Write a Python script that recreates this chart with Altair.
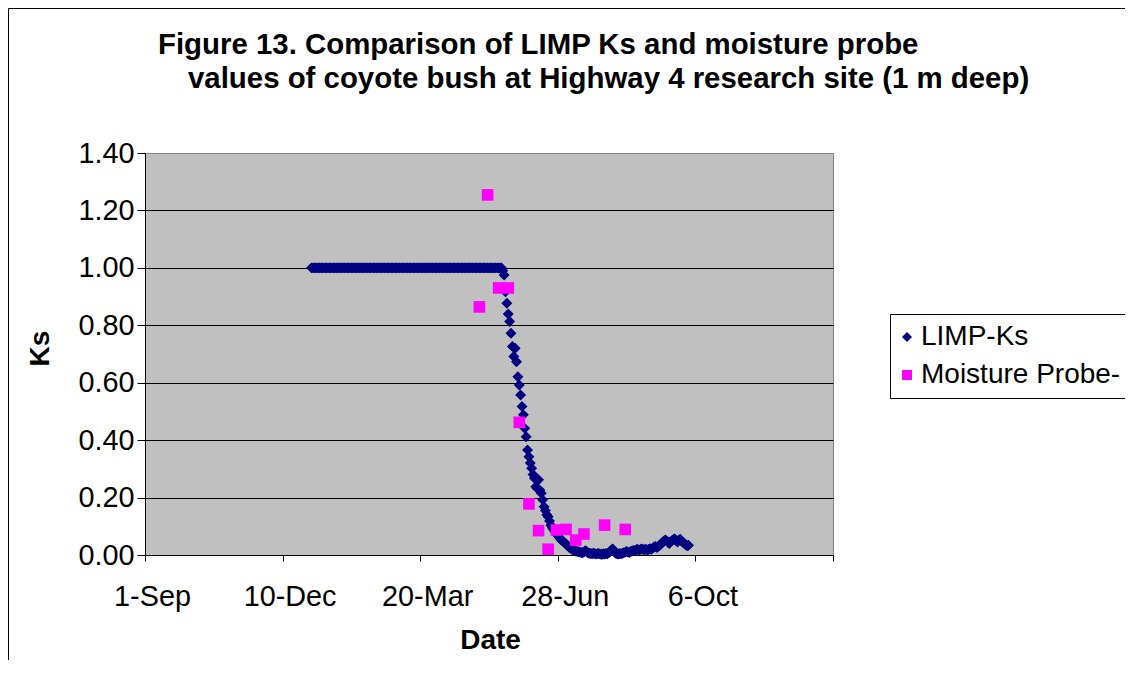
import altair as alt
import pandas as pd

FONT = "Liberation Sans"

series_names = ["LIMP-Ks", "Moisture Probe-"]

# LIMP-Ks: one value per day, starting 31-Dec-2002 (day 0)
limp_start = "2002-12-31"
limp_ks = [1.0] * 139 + [
    0.99, 0.975, 0.917, 0.877, 0.839, 0.813, 0.772, 0.726, 0.691, 0.720,
    0.673, 0.621, 0.592, 0.557, 0.517, 0.488, 0.441, 0.412, 0.366, 0.342,
    0.320, 0.302, 0.280, 0.267, 0.238, 0.232, 0.262, 0.226, 0.215, 0.192,
    0.168, 0.155, 0.140, 0.133, 0.118, 0.104, 0.095, 0.088, 0.081, 0.073,
    0.068, 0.062, 0.055, 0.050, 0.046, 0.043, 0.038, 0.033, 0.028, 0.024,
    0.021, 0.018, 0.016, 0.014, 0.012, 0.011, 0.010, 0.009, 0.008, 0.010,
    0.015, 0.012, 0.007, 0.006, 0.005, 0.004, 0.006, 0.004, 0.003, 0.005,
    0.004, 0.003, 0.002, 0.004, 0.003, 0.005, 0.004, 0.008, 0.012, 0.018,
    0.021, 0.012, 0.006, 0.004, 0.003, 0.005, 0.004, 0.006, 0.008, 0.010,
    0.012, 0.010, 0.009, 0.012, 0.014, 0.016, 0.015, 0.018, 0.020, 0.017,
    0.019, 0.021, 0.019, 0.018, 0.020, 0.017, 0.019, 0.022, 0.020, 0.024,
    0.028, 0.030, 0.026, 0.030, 0.033, 0.038, 0.044, 0.048, 0.052, 0.050,
    0.045, 0.040, 0.046, 0.050, 0.054, 0.056, 0.050, 0.045, 0.052, 0.055,
    0.048, 0.044, 0.040, 0.036, 0.032, 0.034,
]

# Moisture probe readings
probe_dates = [
    "2003-05-02", "2003-05-08", "2003-05-16", "2003-05-23", "2003-05-31",
    "2003-06-07", "2003-06-14", "2003-06-21", "2003-06-27", "2003-07-04",
    "2003-07-11", "2003-07-17", "2003-08-01", "2003-08-16",
]
probe_ks = [
    0.864, 1.254, 0.930, 0.930, 0.462, 0.178, 0.085, 0.020, 0.087, 0.089,
    0.052, 0.073, 0.104, 0.089,
]

y_ticks = [0.0, 0.2, 0.4, 0.6, 0.8, 1.0, 1.2, 1.4]

title_line1 = "Figure 13. Comparison of LIMP Ks and moisture probe"
title_line2 = "values of coyote bush at Highway 4 research site (1 m deep)"

limp_dates = pd.Timestamp(limp_start) + pd.to_timedelta(list(range(len(limp_ks))), unit="D")
df = pd.concat([
    pd.DataFrame({"date": limp_dates, "ks": limp_ks, "series": series_names[0]}),
    pd.DataFrame({"date": pd.to_datetime(probe_dates), "ks": probe_ks, "series": series_names[1]}),
], ignore_index=True)

x_vals = [
    alt.DateTime(year=2002, month=9, date=1),
    alt.DateTime(year=2002, month=12, date=10),
    alt.DateTime(year=2003, month=3, date=20),
    alt.DateTime(year=2003, month=6, date=28),
    alt.DateTime(year=2003, month=10, date=6),
    alt.DateTime(year=2004, month=1, date=14),
]

leg = alt.Legend(
    orient="none", legendX=745, legendY=161, title=None,
    labelFont=FONT, labelFontSize=28, labelColor="black", labelLimit=600,
    strokeColor="black", fillColor="white", padding=9,
    symbolSize=100, symbolStrokeWidth=0, labelOffset=0, rowPadding=10,
    symbolOffset=-6,
)

base = alt.Chart(df).encode(
    x=alt.X(
        "date:T",
        scale=alt.Scale(domain=[x_vals[0], x_vals[-1]], nice=False),
        axis=alt.Axis(
            values=x_vals, grid=False, title="Date",
            labelExpr="year(datum.value) >= 2004 ? '' : timeFormat(datum.value, '%-d-%b')",
            titleX=345, titleY=85, titleBaseline="middle", titleAlign="center",
            labelPadding=21, labelOffset=7, tickSize=6, labelFlush=False, labelOverlap=False,
        ),
    ),
    y=alt.Y(
        "ks:Q",
        scale=alt.Scale(domain=[0, 1.4], nice=False),
        axis=alt.Axis(
            values=y_ticks, format=".2f", title="Ks",
            titleX=-105, titleY=195, titleAngle=270, titleAlign="center",
            titleBaseline="middle", tickSize=8, labelPadding=3,
            gridColor=alt.condition("datum.value >= 1.4", alt.value("#808080"), alt.value("black")),
        ),
    ),
    color=alt.Color("series:N", scale=alt.Scale(domain=series_names, range=["#000080", "#FF00FF"]), legend=leg),
    shape=alt.Shape("series:N", scale=alt.Scale(domain=series_names, range=["diamond", "square"]), legend=leg),
)

limp = base.transform_filter(alt.datum.series == series_names[0]).mark_point(
    filled=True, opacity=1, size=120, strokeWidth=0)
probe = base.transform_filter(alt.datum.series == series_names[1]).mark_point(
    filled=True, opacity=1, size=135, strokeWidth=0)

one = pd.DataFrame({"a": [0]})
frame = alt.Chart(one).mark_rect(
    filled=False, stroke="black", strokeWidth=1
).encode(x=alt.value(-136.5), x2=alt.value(1200), y=alt.value(-144.5), y2=alt.value(700))

title_style = dict(font=FONT, fontSize=29.4, fontWeight="bold", color="black",
                   align="left", baseline="alphabetic")
t1 = alt.Chart(one).mark_text(text=title_line1, **title_style).encode(
    x=alt.value(13), y=alt.value(-99))
t2 = alt.Chart(one).mark_text(text=title_line2, **title_style).encode(
    x=alt.value(43), y=alt.value(-65))

chart = alt.layer(frame, t1, t2, limp, probe).properties(
    width=688, height=402,
    autosize=alt.AutoSizeParams(type="none"),
    padding={"left": 137, "top": 145, "right": 292, "bottom": 105},
).configure(
    background="white",
).configure_view(
    fill="#C0C0C0", stroke="#808080", strokeWidth=1,
).configure_axis(
    labelFont=FONT, labelFontSize=28.8, labelColor="black",
    titleFont=FONT, titleFontSize=28, titleFontWeight="bold", titleColor="black",
    domainColor="black", tickColor="black", gridWidth=1, domainWidth=1, tickWidth=1,
)

chart.save("out.html", embed_options={"renderer": "svg", "actions": False})
